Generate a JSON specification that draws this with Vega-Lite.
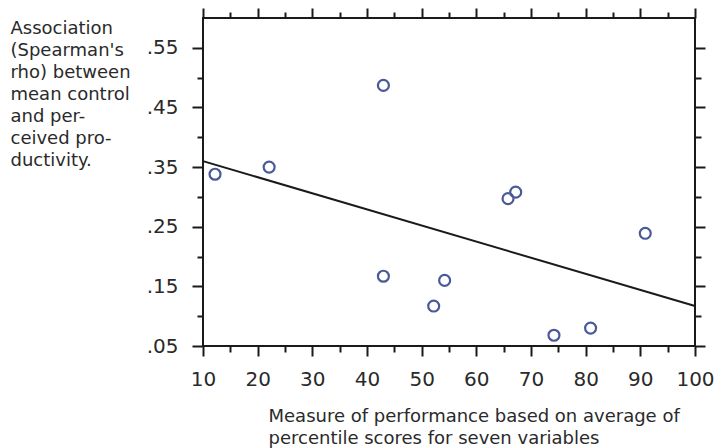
{
  "$schema": "https://vega.github.io/schema/vega-lite/v6.json",
  "width": 492,
  "height": 328,
  "autosize": {"type": "none"},
  "padding": {"left": 203, "top": 18, "right": 19, "bottom": 102},
  "background": "white",
  "config": {
    "view": {"stroke": "#1a1a1a", "strokeWidth": 2},
    "font": "DejaVu Sans",
    "axis": {
      "domain": false,
      "grid": false,
      "labelFlush": false,
      "labelOverlap": false,
      "tickColor": "#1a1a1a",
      "tickWidth": 2,
      "labelFont": "DejaVu Sans",
      "labelFontSize": 20,
      "labelColor": "#2a2a2a",
      "titleFont": "DejaVu Sans",
      "titleFontSize": 18,
      "titleFontWeight": "normal",
      "titleColor": "#2a2a2a"
    }
  },
  "datasets": {
    "points": [
      {"performance": 12.2, "rho": 0.338},
      {"performance": 22.1, "rho": 0.35},
      {"performance": 43.0, "rho": 0.487},
      {"performance": 43.0, "rho": 0.167},
      {"performance": 54.2, "rho": 0.16},
      {"performance": 52.2, "rho": 0.117},
      {"performance": 65.8, "rho": 0.297},
      {"performance": 67.2, "rho": 0.308},
      {"performance": 90.9, "rho": 0.239},
      {"performance": 74.2, "rho": 0.068},
      {"performance": 80.9, "rho": 0.08}
    ],
    "fit": [
      {"performance": 10, "rho": 0.36},
      {"performance": 100, "rho": 0.117}
    ]
  },
  "resolve": {"axis": {"x": "independent", "y": "independent"}},
  "layer": [
    {
      "data": {"name": "fit"},
      "mark": {"type": "line", "color": "#1a1a1a", "strokeWidth": 2},
      "encoding": {
        "x": {"field": "performance", "type": "quantitative",
              "scale": {"domain": [10, 100], "nice": false},
              "axis": {"orient": "top", "values": [10,20,30,40,50,60,70,80,90,100], "labels": false, "tickSize": 10, "title": null}},
        "y": {"field": "rho", "type": "quantitative",
              "scale": {"domain": [0.05, 0.6], "nice": false, "zero": false},
              "axis": {"orient": "right", "values": [0.05,0.15,0.25,0.35,0.45,0.55], "labels": false, "tickSize": 10, "title": null}}
      }
    },
    {
      "data": {"name": "points"},
      "mark": {"type": "point", "shape": "circle", "filled": false, "color": "#4a5a98", "strokeWidth": 2.2, "size": 120, "opacity": 1},
      "encoding": {
        "x": {"field": "performance", "type": "quantitative",
              "scale": {"domain": [10, 100], "nice": false},
              "axis": {"orient": "bottom", "values": [10,20,30,40,50,60,70,80,90,100], "tickSize": 10, "labelPadding": 13,
                       "title": ["Measure of performance based on average of", "percentile scores for seven variables"],
                       "titleAlign": "left", "titleAnchor": null, "titleX": 65, "titleY": 75, "titleBaseline": "alphabetic", "titleLineHeight": 22}},
        "y": {"field": "rho", "type": "quantitative",
              "scale": {"domain": [0.05, 0.6], "nice": false, "zero": false},
              "axis": {"orient": "left", "values": [0.05,0.15,0.25,0.35,0.45,0.55], "tickSize": 11, "labelPadding": 14,
                       "labelExpr": "replace(format(datum.value, '.2f'), '0.', '.')",
                       "title": ["Association", "(Spearman's", "rho) between", "mean control", "and per-", "ceived pro-", "ductivity."],
                       "titleAngle": 0, "titleAlign": "left", "titleAnchor": null, "titleX": -193, "titleY": 15, "titleBaseline": "alphabetic", "titleLineHeight": 22}}
      }
    },
    {
      "data": {"name": "points"},
      "mark": {"type": "point", "opacity": 0},
      "encoding": {
        "x": {"field": "performance", "type": "quantitative",
              "scale": {"domain": [10, 100], "nice": false},
              "axis": {"orient": "bottom", "values": [15,25,35,45,55,65,75,85,95], "labels": false, "tickSize": 6, "title": null}},
        "y": {"field": "rho", "type": "quantitative",
              "scale": {"domain": [0.05, 0.6], "nice": false, "zero": false},
              "axis": {"orient": "left", "values": [0.1,0.2,0.3,0.4,0.5], "labels": false, "tickSize": 6, "title": null}}
      }
    },
    {
      "data": {"name": "points"},
      "mark": {"type": "point", "opacity": 0},
      "encoding": {
        "x": {"field": "performance", "type": "quantitative",
              "scale": {"domain": [10, 100], "nice": false},
              "axis": {"orient": "top", "values": [15,25,35,45,55,65,75,85,95], "labels": false, "tickSize": 6, "title": null}},
        "y": {"field": "rho", "type": "quantitative",
              "scale": {"domain": [0.05, 0.6], "nice": false, "zero": false},
              "axis": {"orient": "right", "values": [0.1,0.2,0.3,0.4,0.5], "labels": false, "tickSize": 6, "title": null}}
      }
    }
  ]
}
